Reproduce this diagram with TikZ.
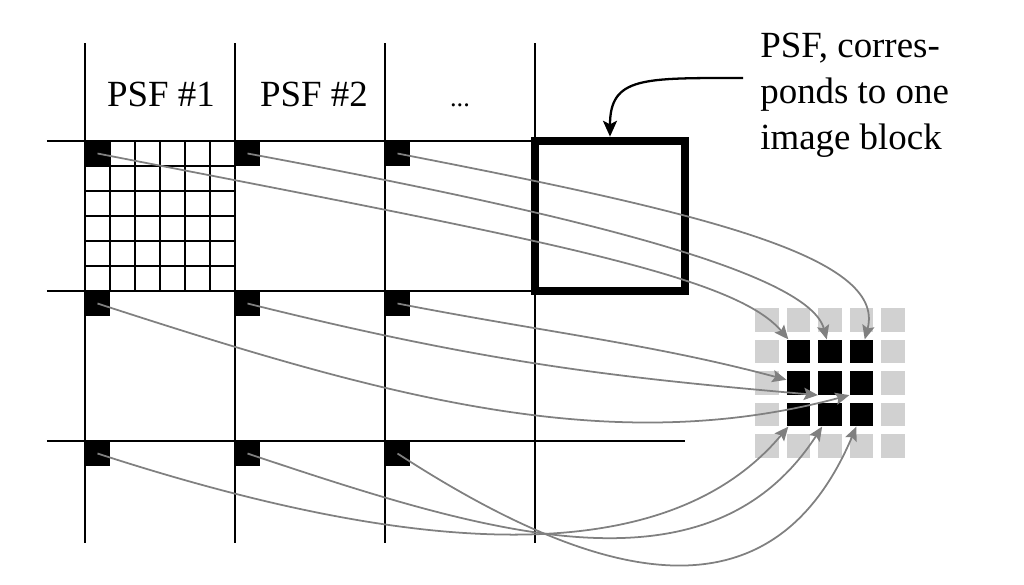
\documentclass[tikz,border=0pt]{standalone}
\usepackage{fontspec}
\setmainfont{Liberation Serif}
\usetikzlibrary{arrows.meta}

\begin{document}
\begin{tikzpicture}[
        src/.style={fill=black,minimum size=0.5cm,inner sep=0pt},
        cell/.style={fill=#1,minimum size=0.47cm,inner sep=0pt},
        link/.style={draw=gray,line width=1pt,-{Stealth[length=8pt,width=7pt,inset=1.5pt,fill=gray]}},
        font=\fontsize{21}{26}\selectfont]
    \useasboundingbox (-1.7,2.82) rectangle (18.78,-8.86);
    % PSF grid
    \foreach \x in {0,3,6,9}
        \draw[line width=1.2pt] (\x,1.96) -- (\x,-8.04);
    \draw[line width=1.2pt] (-0.76,0) -- (9,0);
    \draw[line width=1.2pt] (-0.76,-3) -- (9,-3);
    \draw[line width=1.2pt] (-0.76,-6) -- (12,-6);
    \draw[line width=1pt,step=0.5] (0,-3) grid (3,0);
    \node[draw,line width=5pt,minimum size=3cm,inner sep=0pt] (block) at (10.5,-1.5) {};
    \foreach \i in {1,2,3}
        \foreach \j in {1,2,3}
            \node[src] (s\i\j) at ({3*\i-2.75},{-3*\j+2.75}) {};
    % image block
    \foreach \i in {0,...,4}
        \foreach \j in {0,...,4}
            \node[cell=black!18] (g\i\j) at ({13.64+0.63*\i},{-3.58-0.63*\j}) {};
    \foreach \i in {1,2,3}
        \foreach \j in {1,2,3}
            \node[cell=black] (t\i\j) at ({13.64+0.63*\i},{-3.58-0.63*\j}) {};
    \draw[link] (s11.center) .. controls +(-11:9) and +(130:2) .. (t11);
    \draw[link] (s21.center) .. controls +(-10.5:7) and +(105:1.6) .. (t21);
    \draw[link] (s31.center) .. controls +(-11:6) and +(75:2) .. (t31);
    \draw[link] (s32.center) .. controls +(-11:3) and +(165:3) .. (t12);
    \draw[link] (s22.center) .. controls +(-14:5) and +(175:4) .. (t22.south west);
    \draw[link] (s12.center) .. controls +(-18:6) and +(195:5) .. (t32.south west);
    \draw[link] (s13.center) .. controls +(-18:7) and +(230:4) .. (t13);
    \draw[link] (s23.center) .. controls +(-18.5:5) and +(237:4.5) .. (t23);
    \draw[link] (s33.center) .. controls +(-33:5) and +(247:4.5) .. (t33);
    % labels
    \node[anchor=base] (psf1) at (1.52,0.7) {PSF \#1};
    \node[anchor=base] (psf2) at (4.58,0.7) {PSF \#2};
    \node[anchor=base,font=\fontsize{15}{18}\selectfont] (dots) at (7.5,0.7) {...};
    \node[anchor=north west,inner sep=0pt,align=left] (note) at (13.5,2.16) {PSF, corres-\\ponds to one\\image block};
    \coordinate (note-tail) at (13.16,1.26);
    \draw[line width=1.3pt,-{Stealth[length=9pt,width=8pt,inset=2pt]}] (note-tail) .. controls +(-2,0) and +(0,1.2) .. (block.north);
\end{tikzpicture}
\end{document}
